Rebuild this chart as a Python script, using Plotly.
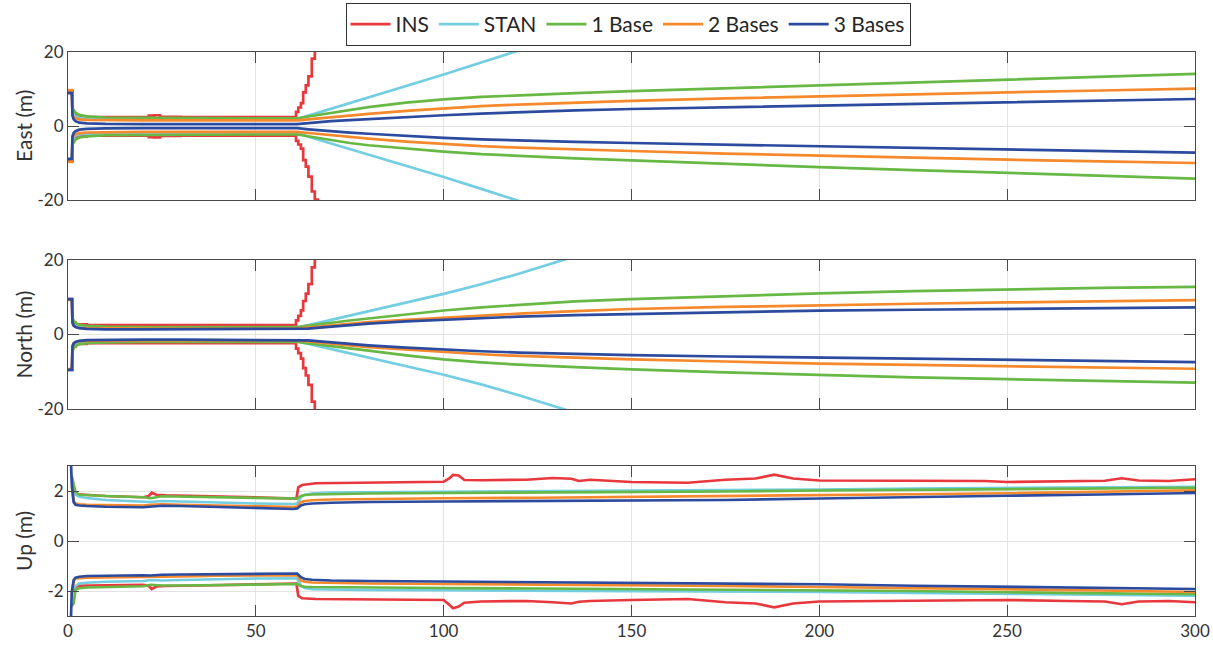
import plotly.graph_objects as go
from plotly.subplots import make_subplots

# ---------------- data ----------------
SERIES = ["INS", "STAN", "1 Base", "2 Bases", "3 Bases"]
COLORS = ["#e8383d", "#72cee0", "#67b844", "#f5892c", "#2d4b9e"]

T_EN = [0, 1.0, 1.2, 1.5, 2, 3, 5, 10, 20, 30, 40, 50, 61, 64, 67, 70, 75, 80, 90, 100,
        110, 120, 135, 150, 175, 200, 225, 250, 275, 300]

# East
E_STAN_U = [None, None, 3.6, 3.0, 2.6, 2.2, 2.0, 1.9, 1.8, 1.8, 1.8, 1.8,
            1.8, 2.8, 3.7, 4.6, 6.1, 7.7, 10.8, 13.9, 17.1, 20.4, 25.5, 30.5, 39.0, 47.0, 55.0, 63.0, 71.0, 79.0]
E_STAN_L = [None, None, -3.6, -3.0, -2.6, -2.3, -2.1, -2.0, -1.9, -1.9, -1.9, -1.9,
            -1.9, -2.9, -3.8, -4.7, -6.2, -7.7, -10.8, -13.8, -17.0, -20.4, -25.5, -30.5, -39.0, -47.0, -55.0, -63.0, -71.0, -79.0]
E_1B_U = [None, None, 4.8, 4.2, 3.6, 3.0, 2.6, 2.3, 2.2, 2.1, 2.1, 2.1,
          2.1, 2.6, 3.1, 3.6, 4.4, 5.1, 6.3, 7.2, 7.85, 8.35, 8.9, 9.4, 10.2, 11.0, 11.8, 12.6, 13.35, 14.1]
E_1B_L = [None, None, -4.9, -4.3, -3.7, -3.1, -2.8, -2.5, -2.4, -2.3, -2.3, -2.3,
          -2.3, -2.8, -3.3, -3.8, -4.6, -5.2, -6.1, -6.9, -7.6, -8.1, -8.75, -9.3, -10.25, -11.1, -11.9, -12.7, -13.45, -14.2]
E_2B_U = [9.7, 9.7, 3.0, 2.4, 2.1, 1.8, 1.65, 1.55, 1.5, 1.5, 1.5, 1.5,
          1.5, 1.8, 2.1, 2.4, 2.9, 3.3, 4.1, 4.8, 5.35, 5.8, 6.35, 6.8, 7.45, 8.05, 8.6, 9.1, 9.6, 10.1]
E_2B_L = [-9.7, -9.7, -3.0, -2.5, -2.2, -1.9, -1.75, -1.65, -1.6, -1.6, -1.6, -1.6,
          -1.6, -1.9, -2.2, -2.5, -3.0, -3.4, -4.2, -4.9, -5.45, -5.85, -6.35, -6.75, -7.45, -8.05, -8.6, -9.1, -9.55, -10.0]
E_3B_U = [8.9, 8.9, 2.8, 1.8, 1.3, 0.9, 0.7, 0.55, 0.5, 0.5, 0.5, 0.5,
          0.5, 0.8, 1.1, 1.3, 1.6, 1.9, 2.4, 2.9, 3.35, 3.75, 4.2, 4.6, 5.05, 5.5, 5.9, 6.3, 6.8, 7.3]
E_3B_L = [-8.9, -8.9, -2.8, -1.9, -1.4, -1.0, -0.8, -0.65, -0.6, -0.6, -0.6, -0.6,
          -0.6, -0.9, -1.2, -1.4, -1.8, -2.1, -2.7, -3.2, -3.6, -3.95, -4.3, -4.6, -5.0, -5.4, -5.8, -6.2, -6.7, -7.2]

T_INS_EN = [0, 1.0, 1.2, 2, 5, 20, 21.5, 23, 24.5, 30, 60.7, 61.3, 62.0, 62.6, 63.3, 64.0, 64.9, 65.7, 66.5]
E_INS_U = [9.5, 9.5, 3.0, 2.6, 2.4, 2.4, 2.8, 2.9, 2.5, 2.4, 3.8, 5.0, 6.2, 9.1, 11.0, 13.4, 18.2, 20.5, 24.0]
E_INS_L = [-9.5, -9.5, -3.0, -2.8, -2.6, -2.6, -3.0, -3.1, -2.7, -2.6, -4.0, -5.0, -6.1, -9.2, -11.0, -13.7, -17.7, -19.9, -24.0]

# North
N_STAN_U = [None, None, 3.4, 2.8, 2.4, 2.1, 1.9, 1.8, 1.8, 1.8, 1.8, 1.8,
            1.8, 2.5, 3.2, 3.9, 5.1, 6.3, 8.6, 10.9, 13.5, 16.3, 21.0, 25.5, 32.0, 39.0, 46.0, 53.0, 60.0, 67.0]
N_STAN_L = [None, None, -3.4, -2.8, -2.4, -2.1, -1.9, -1.8, -1.8, -1.8, -1.8, -1.8,
            -1.8, -2.5, -3.2, -3.9, -5.1, -6.3, -8.55, -10.8, -13.4, -16.3, -21.0, -25.5, -32.0, -39.0, -46.0, -53.0, -60.0, -67.0]
N_1B_U = [None, None, 4.5, 3.7, 3.1, 2.6, 2.3, 2.1, 2.0, 2.0, 2.0, 2.0,
          2.0, 2.4, 2.8, 3.2, 3.75, 4.3, 5.4, 6.45, 7.3, 8.0, 8.9, 9.5, 10.3, 11.05, 11.65, 12.15, 12.5, 12.8]
N_1B_L = [None, None, -4.5, -3.7, -3.1, -2.6, -2.3, -2.1, -2.0, -2.0, -2.0, -2.0,
          -2.0, -2.4, -2.8, -3.2, -3.75, -4.35, -5.6, -6.7, -7.5, -8.1, -8.75, -9.35, -10.15, -10.85, -11.5, -12.0, -12.5, -12.9]
N_2B_U = [9.3, 9.3, 3.0, 2.4, 2.1, 1.8, 1.7, 1.6, 1.6, 1.6, 1.6, 1.6,
          1.6, 1.85, 2.1, 2.35, 2.8, 3.3, 3.9, 4.5, 5.1, 5.6, 6.3, 6.85, 7.4, 7.9, 8.25, 8.6, 8.95, 9.25]
N_2B_L = [-9.3, -9.3, -3.0, -2.4, -2.1, -1.8, -1.7, -1.6, -1.6, -1.6, -1.6, -1.6,
          -1.6, -1.85, -2.1, -2.4, -2.9, -3.4, -4.1, -4.75, -5.3, -5.75, -6.25, -6.7, -7.25, -7.8, -8.15, -8.5, -8.85, -9.2]
N_3B_U = [9.5, 9.5, 3.2, 2.4, 2.0, 1.7, 1.5, 1.4, 1.4, 1.4, 1.4, 1.4,
          1.4, 1.6, 1.85, 2.1, 2.5, 2.9, 3.5, 4.0, 4.4, 4.8, 5.2, 5.5, 6.0, 6.4, 6.65, 6.85, 7.1, 7.3]
N_3B_L = [-9.5, -9.5, -3.2, -2.4, -2.0, -1.7, -1.5, -1.4, -1.4, -1.4, -1.4, -1.4,
          -1.4, -1.6, -1.85, -2.1, -2.5, -2.9, -3.5, -4.1, -4.5, -4.85, -5.2, -5.55, -5.9, -6.2, -6.5, -6.75, -7.05, -7.4]

N_INS_U = [9.5, 9.5, 3.2, 2.7, 2.5, 2.5, 2.5, 2.5, 2.5, 2.5, 3.8, 5.0, 6.5, 9.0, 11.0, 13.5, 18.0, 20.5, 24.0]
N_INS_L = [-9.5, -9.5, -3.2, -2.5, -2.3, -2.3, -2.3, -2.3, -2.3, -2.3, -3.8, -5.0, -6.5, -9.0, -11.0, -13.5, -18.0, -20.5, -24.0]

# Up
T_UP = [0, 0.7, 1.0, 1.5, 2, 3, 5, 10, 20, 22, 25, 30, 40, 50, 60, 61, 62, 63, 65, 70,
        80, 100, 125, 150, 175, 200, 225, 250, 275, 300]
U_3B_U = [3.5, 3.5, 2.3, 1.55, 1.45, 1.42, 1.4, 1.37, 1.35, 1.38, 1.41, 1.4, 1.35, 1.3, 1.28, 1.3, 1.42, 1.47, 1.5, 1.53,
          1.56, 1.58, 1.6, 1.61, 1.64, 1.7, 1.77, 1.81, 1.86, 1.92]
U_3B_L = [-3.5, -3.5, -2.05, -1.56, -1.47, -1.43, -1.4, -1.38, -1.37, -1.38, -1.35, -1.34, -1.32, -1.3, -1.28, -1.3, -1.45, -1.52, -1.55, -1.58,
          -1.6, -1.62, -1.64, -1.66, -1.7, -1.73, -1.79, -1.83, -1.87, -1.92]
U_2B_U = [None, None, 2.2, 1.6, 1.5, 1.47, 1.45, 1.43, 1.42, 1.45, 1.47, 1.45, 1.41, 1.38, 1.36, 1.38, 1.55, 1.6, 1.63, 1.66,
          1.68, 1.71, 1.73, 1.76, 1.79, 1.83, 1.87, 1.91, 1.96, 2.03]
U_2B_L = [None, None, -2.2, -1.6, -1.5, -1.48, -1.47, -1.46, -1.45, -1.45, -1.43, -1.42, -1.39, -1.37, -1.35, -1.37, -1.58, -1.63, -1.66, -1.68,
          -1.7, -1.72, -1.74, -1.76, -1.8, -1.84, -1.88, -1.93, -1.98, -2.04]
U_STAN_U = [None, None, 2.0, 1.9, 1.85, 1.77, 1.72, 1.64, 1.55, 1.56, 1.6, 1.58, 1.53, 1.5, 1.48, 1.5, 1.75, 1.85, 1.9, 1.94,
            1.95, 1.97, 1.98, 2.0, 2.02, 2.06, 2.1, 2.12, 2.14, 2.17]
U_STAN_L = [None, None, -2.0, -1.9, -1.8, -1.7, -1.67, -1.63, -1.6, -1.56, -1.58, -1.56, -1.52, -1.5, -1.49, -1.5, -1.78, -1.88, -1.93, -1.95,
            -1.96, -1.97, -1.98, -1.99, -2.01, -2.04, -2.08, -2.12, -2.16, -2.19]
U_1B_U = [None, None, 2.6, 2.3, 1.95, 1.85, 1.83, 1.8, 1.75, 1.71, 1.79, 1.78, 1.74, 1.71, 1.69, 1.7, 1.8, 1.84, 1.86, 1.88,
          1.9, 1.92, 1.93, 1.95, 1.98, 2.02, 2.05, 2.08, 2.1, 2.13]
U_1B_L = [None, None, -2.6, -2.5, -1.95, -1.89, -1.86, -1.84, -1.81, -1.75, -1.78, -1.78, -1.76, -1.74, -1.71, -1.72, -1.8, -1.83, -1.84, -1.85,
          -1.86, -1.88, -1.9, -1.92, -1.94, -1.97, -2.0, -2.05, -2.09, -2.13]

T_INS_UP = [1.5, 2.5, 10, 20, 21.5, 22.3, 23.5, 26, 35, 45, 55, 60.8, 61.3, 62.3, 66, 80, 100, 101.5, 102.5, 104,
            105.5, 110, 122, 129, 134, 136, 139, 150, 165, 175, 183, 188, 193, 200, 222, 244, 250, 266, 276, 280.5,
            285, 293, 300]
U_INS_U = [2.0, 1.87, 1.8, 1.75, 1.8, 1.93, 1.85, 1.83, 1.8, 1.76, 1.72, 1.7, 2.15, 2.24, 2.31, 2.33, 2.37, 2.5, 2.64, 2.62,
           2.44, 2.43, 2.45, 2.52, 2.49, 2.4, 2.45, 2.36, 2.33, 2.45, 2.5, 2.65, 2.5, 2.42, 2.4, 2.4, 2.36, 2.4, 2.41, 2.51,
           2.42, 2.4, 2.47]
U_INS_L = [-2.0, -1.79, -1.77, -1.75, -1.8, -1.92, -1.82, -1.8, -1.78, -1.75, -1.72, -1.7, -2.2, -2.29, -2.32, -2.33, -2.36, -2.55, -2.69, -2.62,
           -2.47, -2.42, -2.4, -2.45, -2.5, -2.43, -2.4, -2.36, -2.32, -2.45, -2.5, -2.65, -2.5, -2.42, -2.4, -2.38, -2.36, -2.4, -2.42, -2.53,
           -2.42, -2.4, -2.45]

X_TICKS = [0, 50, 100, 150, 200, 250, 300]
Y_TICKS_EN = [-20, 0, 20]
Y_TICKTEXT_EN = ["-20", "0", "20"]
Y_TICKS_UP = [-2, 0, 2]
Y_TICKTEXT_UP = ["-2", "0", "2"]
Y_TITLES = ["East (m)", "North (m)", "Up (m)"]

# ---------------- figure ----------------
W, H = 1213, 648
L, R, TOP, BOT = 68, 1195, 52, 616
PANELS_PX = [(52, 200), (260, 409), (466, 616)]
PH = BOT - TOP

fig = make_subplots(rows=3, cols=1)

panels = [
    {"ins": (T_INS_EN, E_INS_U, E_INS_L, "hv"),
     "other": [(E_STAN_U, E_STAN_L), (E_1B_U, E_1B_L), (E_2B_U, E_2B_L), (E_3B_U, E_3B_L)], "t": T_EN},
    {"ins": (T_INS_EN, N_INS_U, N_INS_L, "hv"),
     "other": [(N_STAN_U, N_STAN_L), (N_1B_U, N_1B_L), (N_2B_U, N_2B_L), (N_3B_U, N_3B_L)], "t": T_EN},
    {"ins": (T_INS_UP, U_INS_U, U_INS_L, "linear"),
     "other": [(U_STAN_U, U_STAN_L), (U_1B_U, U_1B_L), (U_2B_U, U_2B_L), (U_3B_U, U_3B_L)], "t": T_UP},
]

LW = 2.7
for p, pan in enumerate(panels):
    row = p + 1
    tI, uI, lI, shape = pan["ins"]
    for k, yy in enumerate([uI, lI]):
        fig.add_trace(go.Scatter(x=tI, y=yy, mode="lines", name=SERIES[0], legendgroup=SERIES[0],
                                 showlegend=(p == 0 and k == 0),
                                 line=dict(color=COLORS[0], width=LW, shape=shape)), row=row, col=1)
    for s, (uu, ll) in enumerate(pan["other"]):
        for k, yy in enumerate([uu, ll]):
            fig.add_trace(go.Scatter(x=pan["t"], y=yy, mode="lines", name=SERIES[s + 1],
                                     legendgroup=SERIES[s + 1], showlegend=(p == 0 and k == 0),
                                     line=dict(color=COLORS[s + 1], width=LW)), row=row, col=1)

FONT = "Lato"
axis_common = dict(showline=True, linecolor="#4a4a4a", linewidth=1, mirror="ticks",
                   ticks="inside", ticklen=11, tickcolor="#4a4a4a", tickwidth=1,
                   showgrid=True, gridcolor="#e3e3e3", gridwidth=1, zeroline=False,
                   automargin=False,
                   tickfont=dict(family=FONT, size=17, color="#333333"))

for p, (top, bot) in enumerate(PANELS_PX):
    row = p + 1
    dom = [(BOT - bot) / PH, (BOT - top) / PH]
    fig.update_xaxes(range=[0, 300], tickvals=X_TICKS, showticklabels=(row == 3),
                     domain=[0, 1], **axis_common, row=row, col=1)
    if row < 3:
        fig.update_yaxes(range=[-20, 20], tickvals=Y_TICKS_EN, ticktext=Y_TICKTEXT_EN,
                         domain=dom, **axis_common, row=row, col=1)
    else:
        fig.update_yaxes(range=[-3, 3], tickvals=Y_TICKS_UP, ticktext=Y_TICKTEXT_UP,
                         domain=dom, **axis_common, row=row, col=1)
    fig.add_annotation(text=Y_TITLES[p], xref="paper", yref="paper",
                       x=(23 - L) / (R - L), y=(BOT - (top + bot) / 2) / PH, textangle=-90,
                       showarrow=False, xanchor="center", yanchor="middle",
                       font=dict(family=FONT, size=21, color="#333333"))

fig.update_layout(
    width=W, height=H,
    margin=dict(l=L, r=W - R, t=TOP, b=H - BOT, autoexpand=False),
    paper_bgcolor="white", plot_bgcolor="white",
    showlegend=True,
    legend=dict(orientation="h", xref="container", yref="container",
                x=628 / W, xanchor="center", y=1 - 3 / H, yanchor="top",
                bordercolor="#333333", borderwidth=1, bgcolor="white",
                font=dict(family=FONT, size=21, color="#262626"),
                itemwidth=40, tracegroupgap=0),
)

fig.write_html("out.html", config={"displayModeBar": False},
               post_script="document.body.style.margin='0px';document.body.style.padding='0px';")
